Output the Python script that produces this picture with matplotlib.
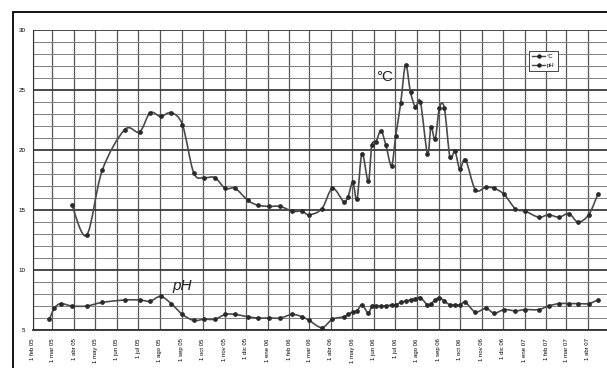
import numpy as np
import pandas as pd
import matplotlib
matplotlib.use("Agg")
import matplotlib.pyplot as plt
import matplotlib.dates as mdates
from matplotlib.path import Path
from matplotlib.patches import PathPatch, Rectangle
from matplotlib.lines import Line2D

plt.rcParams['font.family'] = ['Liberation Sans', 'DejaVu Sans']

# sampling dates and readings
temp_dates = ["2005-03-29", "2005-04-19", "2005-05-11", "2005-06-12", "2005-07-03", "2005-07-18",
              "2005-08-02", "2005-08-17", "2005-09-02", "2005-09-18", "2005-10-03", "2005-10-18",
              "2005-11-02", "2005-11-16", "2005-12-04", "2005-12-18",
              "2006-01-03", "2006-01-19", "2006-02-05", "2006-02-19", "2006-03-01", "2006-03-19",
              "2006-04-03", "2006-04-19", "2006-04-25", "2006-05-02", "2006-05-08", "2006-05-15",
              "2006-05-24", "2006-05-29", "2006-06-04", "2006-06-11", "2006-06-18", "2006-06-26",
              "2006-07-02", "2006-07-09", "2006-07-16", "2006-07-23", "2006-07-30", "2006-08-06",
              "2006-08-16", "2006-08-21", "2006-08-27", "2006-09-02", "2006-09-09", "2006-09-17",
              "2006-09-24", "2006-10-01", "2006-10-09", "2006-10-23", "2006-11-07", "2006-11-19",
              "2006-12-03", "2006-12-19",
              "2007-01-02", "2007-01-21", "2007-02-04", "2007-02-19", "2007-03-05", "2007-03-18",
              "2007-04-02", "2007-04-15"]
temp = [15.4, 12.9, 18.3, 21.7, 21.5, 23.1, 22.8, 23.1, 22.1, 18.1, 17.7, 17.7, 16.8, 16.8, 15.8, 15.4,
        15.3, 15.3, 14.9, 14.9, 14.6, 15.1, 16.8, 15.7, 16.1, 17.3, 15.9, 19.7, 17.4, 20.4, 20.7, 21.6,
        20.4, 18.7, 21.2, 23.9, 27.1, 24.8, 23.6, 24.0, 19.7, 21.9, 20.9, 23.5, 23.5, 19.4, 19.9, 18.4,
        19.2, 16.7, 16.9, 16.8, 16.3, 15.1,
        14.9, 14.4, 14.6, 14.4, 14.7, 14.0, 14.6, 16.3]

ph_dates = ["2005-02-25", "2005-03-04", "2005-03-13"] + temp_dates
ph = [5.9, 6.8, 7.2,
      7.0, 7.0, 7.3, 7.5, 7.5, 7.4, 7.8, 7.2, 6.3, 5.8, 5.9, 5.9, 6.3, 6.3, 6.1, 6.0,
      6.0, 6.0, 6.3, 6.1, 5.8, 5.2, 5.9, 6.1, 6.3, 6.5, 6.6, 7.1, 6.4, 7.0, 7.0, 7.0,
      7.0, 7.1, 7.1, 7.3, 7.4, 7.5, 7.6, 7.7, 7.1, 7.2, 7.5, 7.7, 7.4, 7.1, 7.1, 7.1,
      7.3, 6.5, 6.8, 6.4, 6.7, 6.6,
      6.7, 6.7, 7.0, 7.2, 7.2, 7.2, 7.2, 7.5]

month_names = ["ene", "feb", "mar", "abr", "may", "jun", "jul", "ago", "sep", "oct", "nov", "dic"]
tick_dates = pd.date_range("2005-02-01", "2007-04-01", freq="MS")
tick_labels = ["1 %s %s" % (month_names[d.month - 1], d.strftime("%y")) for d in tick_dates]

series_labels = ["°C", "pH"]


def smooth_path(x, y, t=1.0 / 6):
    # cubic bezier through every point (catmull-rom style tangents)
    pts = np.column_stack([x, y])
    n = len(pts)
    verts = [pts[0]]
    codes = [Path.MOVETO]
    for i in range(n - 1):
        p0 = pts[max(i - 1, 0)]
        p1 = pts[i]
        p2 = pts[i + 1]
        p3 = pts[min(i + 2, n - 1)]
        c1 = p1 + (p2 - p0) * t
        c2 = p2 - (p3 - p1) * t
        verts += [c1, c2, p2]
        codes += [Path.CURVE4] * 3
    return Path(np.array(verts), codes)


W, H = 607, 368
fig = plt.figure(figsize=(W / 100, H / 100), dpi=100)

x_start = mdates.date2num(pd.Timestamp("2005-02-01"))
x_end = mdates.date2num(pd.Timestamp("2007-05-20"))
px_per_day = 0.704
ax_left, ax_top, ax_bottom = 32.5, 30, 330
ax_w = (x_end - x_start) * px_per_day
ax = fig.add_axes([ax_left / W, 1 - ax_bottom / H, ax_w / W, (ax_bottom - ax_top) / H])

# outer frame of the figure
fig.patches.append(Rectangle((13 / W, -0.2), 1.2, 1.2 - 12 / H, transform=fig.transFigure,
                             fill=False, edgecolor="black", linewidth=1.3, clip_on=False))

line_col = "#4a4a4a"
tx = mdates.date2num(pd.to_datetime(temp_dates))
px = mdates.date2num(pd.to_datetime(ph_dates))

for xs, ys in [(tx, temp), (px, ph)]:
    ax.add_patch(PathPatch(smooth_path(xs, np.array(ys)), facecolor="none",
                           edgecolor=line_col, linewidth=1.2, zorder=3))
    ax.plot(xs, ys, linestyle="none", marker="o", markersize=2.4,
            color="#2a2a2a", zorder=4)

ax.set_xlim(x_start, x_end)
ax.set_ylim(5, 30)

ax.set_xticks(mdates.date2num(tick_dates))
ax.set_xticklabels(tick_labels, rotation=90, fontsize=4.3, va="top", ha="center")
ax.set_xticks([mdates.date2num(pd.Timestamp("2007-05-01"))], minor=True)
ax.set_yticks([5, 10, 15, 20, 25, 30])
ax.set_yticklabels(["5", "10", "15", "20", "25", "30"], fontsize=4.5)
ax.set_yticks(np.arange(5, 31, 1), minor=True)
ax.tick_params(axis="both", which="both", length=0)
ax.tick_params(axis="y", pad=5)
ax.tick_params(axis="x", pad=6)

ax.grid(axis="x", which="both", color="#555555", linewidth=0.9)
ax.grid(axis="y", which="minor", color="#808080", linewidth=0.7)
ax.grid(axis="y", which="major", color="#3a3a3a", linewidth=1.3)
ax.set_axisbelow(True)
for side in ["top", "right"]:
    ax.spines[side].set_visible(False)
ax.spines["left"].set_color("#333333")
ax.spines["bottom"].set_color("#333333")
ax.spines["bottom"].set_linewidth(1.3)

ax.text(mdates.date2num(pd.Timestamp("2006-06-16")), 26.1, "°C", fontsize=11,
        ha="center", va="center", color="#222222")
ax.text(mdates.date2num(pd.Timestamp("2005-09-02")), 8.7, "pH", fontsize=11,
        style="italic", ha="center", va="center", color="#222222")

handles = [Line2D([], [], color=line_col, linewidth=1.0, marker="o", markersize=2.2,
                  markerfacecolor="#222222", markeredgecolor="#222222") for _ in series_labels]
leg = ax.legend(handles, series_labels, loc="upper left",
                bbox_to_anchor=(526 / W, 1 - 48 / H), bbox_transform=fig.transFigure,
                fontsize=4.3, handlelength=2.2, handletextpad=0.3, borderpad=0.5,
                labelspacing=0.6, fancybox=False, framealpha=1, edgecolor="#444444")
leg.get_frame().set_linewidth(0.7)

fig.savefig("out.png", dpi=100)
